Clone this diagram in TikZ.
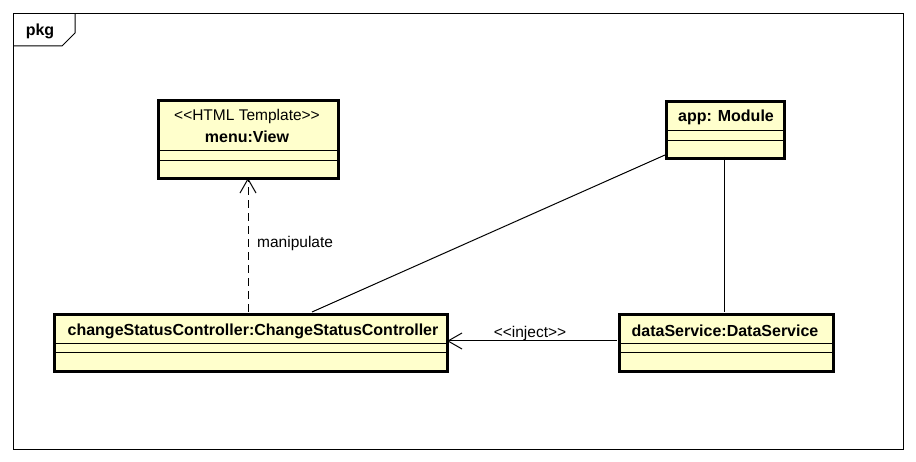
\documentclass[tikz,border=0pt]{standalone}
\usepackage{fontspec}
\setmainfont{Liberation Sans}
\usetikzlibrary{arrows.meta}
\definecolor{classfill}{RGB}{255,255,204}
\tikzset{
  umlbox/.style={draw=black, line width=2.6pt, fill=classfill, inner sep=0pt, anchor=north west},
  divider/.style={line width=1pt},
  frameline/.style={line width=1pt},
  assoc/.style={line width=1pt},
  openhead/.style={-{Straight Barb[length=14pt,width=16pt,line width=1pt]}},
  depline/.style={line width=1pt, dash pattern=on 8pt off 5pt},
  boxname/.style={font=\fontsize{16}{18}\selectfont\bfseries, inner sep=0pt},
  stereo/.style={font=\fontsize{15.5}{18}\selectfont, inner sep=0pt},
  lbl/.style={font=\fontsize{15.5}{18}\selectfont, inner sep=0pt}
}
\newcommand{\ltlt}{{<}{<}}
\newcommand{\gtgt}{{>}{>}}
\begin{document}
\begin{tikzpicture}[x=1pt,y=-1pt]
  \useasboundingbox (0,0) rectangle (916,462);
  % package frame with tab
  \draw[frameline] (13,14) rectangle (903,449);
  \draw[frameline] (13,46) -- (62,46) -- (75,33) -- (75,14);
  \node[boxname] (pkg) at (40,31) {pkg};

  % menu:View
  \node[umlbox, minimum width=180pt, minimum height=78pt] (menu) at (157,99) {};
  \node[stereo] (menuStereo) at (247,116) {\ltlt HTML Template\gtgt};
  \node[boxname] (menuName) at (247,137) {menu:View};
  \draw[divider] (157,151) -- (337,151);
  \draw[divider] (157,161) -- (337,161);

  % app: Module
  \node[umlbox, minimum width=118pt, minimum height=57pt] (app) at (665,100) {};
  \node[boxname] (appName) at (726,117) {app: Module};
  \draw[divider] (665,131) -- (783,131);
  \draw[divider] (665,141) -- (783,141);

  % changeStatusController
  \node[umlbox, minimum width=393pt, minimum height=57pt] (ctrl) at (53,313) {};
  \node[boxname] (ctrlName) at (253,331) {changeStatusController:ChangeStatusController};
  \draw[divider] (53,344) -- (446,344);
  \draw[divider] (53,353) -- (446,353);

  % dataService
  \node[umlbox, minimum width=214pt, minimum height=57pt] (data) at (618,313) {};
  \node[boxname] (dataName) at (725,331) {dataService:DataService};
  \draw[divider] (618,344) -- (832,344);
  \draw[divider] (618,353) -- (832,353);

  % connectors
  \coordinate (ctrlTop) at (248,312);
  \coordinate (menuBottom) at (248,178);
  \draw[depline, openhead] (ctrlTop) -- (menuBottom);
  \node[lbl, anchor=west] (manip) at (257,243) {manipulate};

  \coordinate (appLeft) at (665,155);
  \coordinate (ctrlJoin) at (312,312);
  \draw[assoc] (appLeft) -- (ctrlJoin);

  \coordinate (appBottom) at (724,157);
  \coordinate (dataTop) at (724,312);
  \draw[assoc] (appBottom) -- (dataTop);

  \coordinate (dataLeft) at (617,341);
  \coordinate (ctrlRight) at (447,341);
  \draw[assoc, openhead] (dataLeft) -- (ctrlRight);
  \node[lbl] (inject) at (530,333) {\ltlt inject\gtgt};
\end{tikzpicture}
\end{document}
